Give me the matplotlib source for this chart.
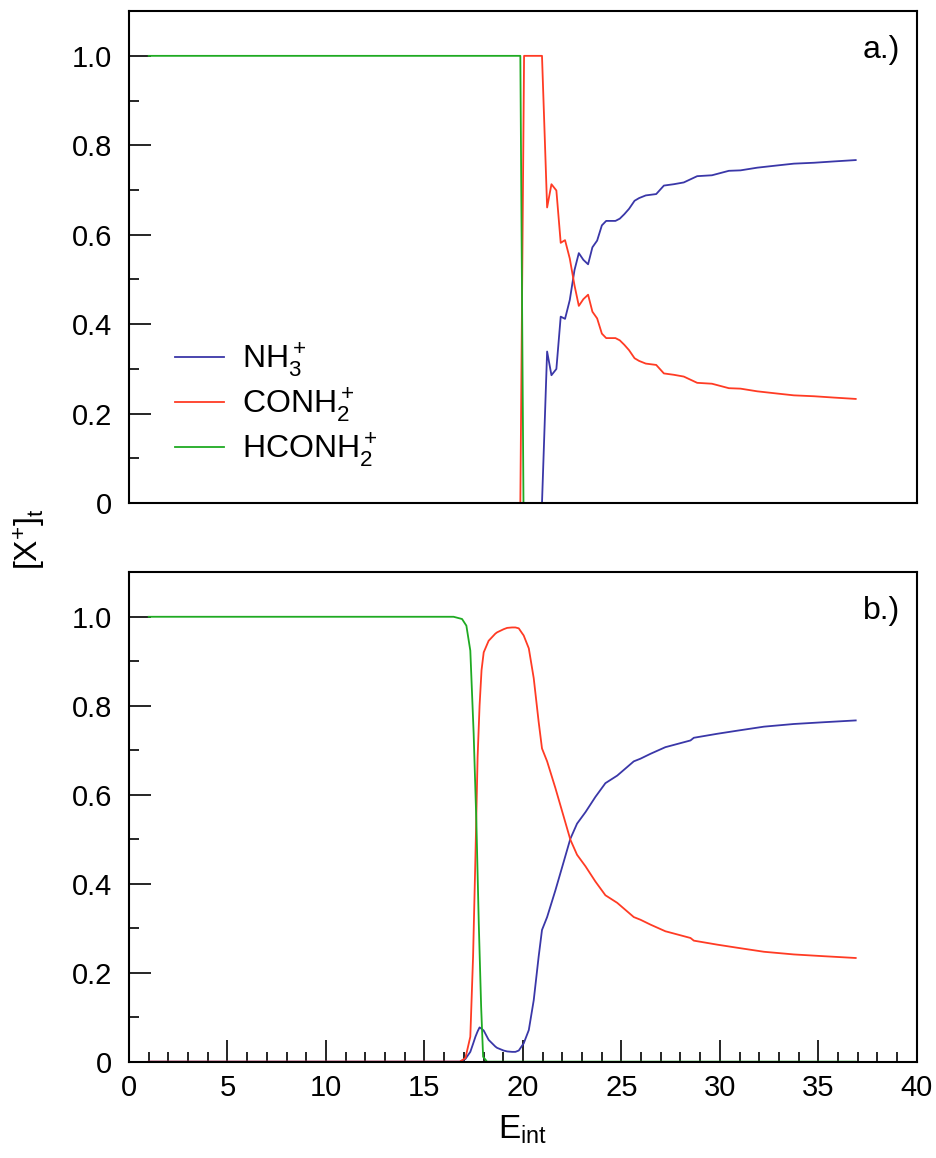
import matplotlib
matplotlib.use('Agg')
import matplotlib.pyplot as plt
from matplotlib.ticker import MultipleLocator

plt.rcParams['font.family'] = ['Liberation Sans', 'DejaVu Sans']
plt.rcParams['mathtext.fontset'] = 'custom'
plt.rcParams['mathtext.rm'] = 'Liberation Sans'
plt.rcParams['mathtext.it'] = 'Liberation Sans:italic'

BLUE = '#3a37a8'
RED = '#ff3b24'
GREEN = '#1faa22'

labels = [r'NH$_3^+$', r'CONH$_2^+$', r'HCONH$_2^+$']

# panel a.) -- step-wise data
e_a = [1.0, 19.87, 20.06, 20.97, 21.23, 21.45, 21.70, 21.92, 22.14, 22.38, 22.62,
       22.84, 23.07, 23.31, 23.53, 23.77, 24.01, 24.23, 24.70, 24.92, 25.15,
       25.39, 25.67, 25.90, 26.24, 26.77, 27.16, 27.66, 28.17, 28.85, 29.60,
       30.46, 31.05, 31.90, 32.92, 33.76, 34.78, 35.80, 36.90]
nh3_a = [0, 0, 0, 0, .339, .286, .300, .417, .412, .454, .521,
         .559, .544, .534, .572, .587, .621, .631, .631, .636, .646,
         .658, .676, .682, .688, .691, .710, .713, .717, .731, .733,
         .743, .744, .750, .755, .759, .761, .764, .767]
conh2_a = [0, 0, 1.0, 1.0, .661, .713, .699, .582, .588, .547, .487,
           .441, .456, .466, .428, .413, .379, .369, .369, .364, .354,
           .342, .324, .318, .312, .309, .290, .287, .283, .269, .267,
           .257, .256, .250, .245, .241, .239, .236, .233]
e_a_h = [1.0, 19.87, 20.03, 36.9]
hconh2_a = [1.0, 1.0, 0.0, 0.0]

# panel b.) -- smooth data
e_b = [1.0, 16.50, 16.80, 17.08, 17.33, 17.47, 17.59, 17.70, 17.80, 17.90, 18.01,
       18.26, 18.60, 18.69, 19.02, 19.20, 19.45, 19.62, 19.79, 19.96, 20.04,
       20.30, 20.55, 20.80, 20.97, 21.23, 21.65, 22.07, 22.41, 22.75, 23.18,
       23.68, 24.19, 24.79, 25.63, 25.97, 26.48, 27.24, 27.33, 28.51, 28.68,
       29.87, 30.89, 32.24, 33.76, 35.29, 36.90]
nh3_b = [0, 0, 0, .006, .022, .040, .056, .068, .077, .074, .070,
         .049, .034, .031, .025, .023, .022, .022, .025, .036, .041,
         .071, .138, .236, .296, .325, .385, .449, .501, .535, .561,
         .595, .626, .643, .675, .681, .692, .707, .708, .722, .728,
         .737, .744, .753, .759, .763, .767]
conh2_b = [0, 0, 0, .008, .056, .236, .460, .684, .800, .880, .920,
           .946, .962, .965, .972, .975, .976, .976, .974, .963, .958,
           .929, .862, .764, .704, .675, .615, .551, .499, .465, .439,
           .405, .374, .357, .325, .319, .308, .293, .292, .278, .272,
           .263, .256, .247, .241, .237, .233]
e_b_h = [1.0, 16.48, 16.91, 17.13, 17.33, 17.50, 17.64, 17.76, 17.88, 17.98, 18.18, 36.9]
hconh2_b = [1.0, 1.0, .995, .980, .924, .737, .535, .310, .123, .011, 0.0, 0.0]

fig = plt.figure(figsize=(9.37, 11.58), dpi=100)
ax_a = fig.add_axes([0.1377, 0.5655, 0.8407, 0.4249])
ax_b = fig.add_axes([0.1377, 0.0832, 0.8407, 0.4226])

for ax in (ax_a, ax_b):
    ax.set_xlim(0, 40)
    ax.set_ylim(0, 1.1)
    ax.xaxis.set_major_locator(MultipleLocator(5))
    ax.xaxis.set_minor_locator(MultipleLocator(1))
    ax.yaxis.set_major_locator(MultipleLocator(0.2))
    ax.yaxis.set_minor_locator(MultipleLocator(0.1))
    ax.tick_params(which='both', direction='in', top=False, right=False,
                   labelsize=21, width=1.2)
    ax.tick_params(axis='y', pad=12)
    ax.tick_params(axis='x', pad=9)
    ax.tick_params(which='major', length=15.5)
    ax.tick_params(which='minor', length=7.5)
    ax.set_yticks([0, 0.2, 0.4, 0.6, 0.8, 1.0])
    ax.set_yticklabels(['0', '0.2', '0.4', '0.6', '0.8', '1.0'])
    for s in ax.spines.values():
        s.set_linewidth(1.5)

ax_a.tick_params(axis='x', which='both', bottom=False, labelbottom=False)
ax_b.set_xticks(range(0, 41, 5))
ax_b.set_xticklabels([str(v) for v in range(0, 41, 5)])

lw = 1.3
ax_a.plot(e_a, nh3_a, color=BLUE, lw=lw, label=labels[0])
ax_a.plot(e_a, conh2_a, color=RED, lw=lw, label=labels[1])
ax_a.plot(e_a_h, hconh2_a, color=GREEN, lw=lw, label=labels[2])

ax_b.plot(e_b, nh3_b, color=BLUE, lw=lw)
ax_b.plot(e_b, conh2_b, color=RED, lw=lw)
ax_b.plot(e_b_h, hconh2_b, color=GREEN, lw=lw)

ax_a.legend(loc='lower left', bbox_to_anchor=(0.058, 0.07), frameon=False,
            fontsize=23, handlelength=1.55, handletextpad=0.55, labelspacing=0.22,
            borderpad=0, borderaxespad=0)

ax_a.text(0.955, 0.92, 'a.)', transform=ax_a.transAxes, fontsize=23,
          ha='center', va='center')
ax_b.text(0.955, 0.92, 'b.)', transform=ax_b.transAxes, fontsize=23,
          ha='center', va='center')

ax_b.set_xlabel(r'E$_{\mathregular{int}}$', fontsize=24, labelpad=8)
fig.text(0.032, 0.534, r'[X$^{+}$]$_{\mathregular{t}}$', rotation=90, fontsize=23,
         ha='center', va='center')

fig.savefig('out.png', dpi=100)
